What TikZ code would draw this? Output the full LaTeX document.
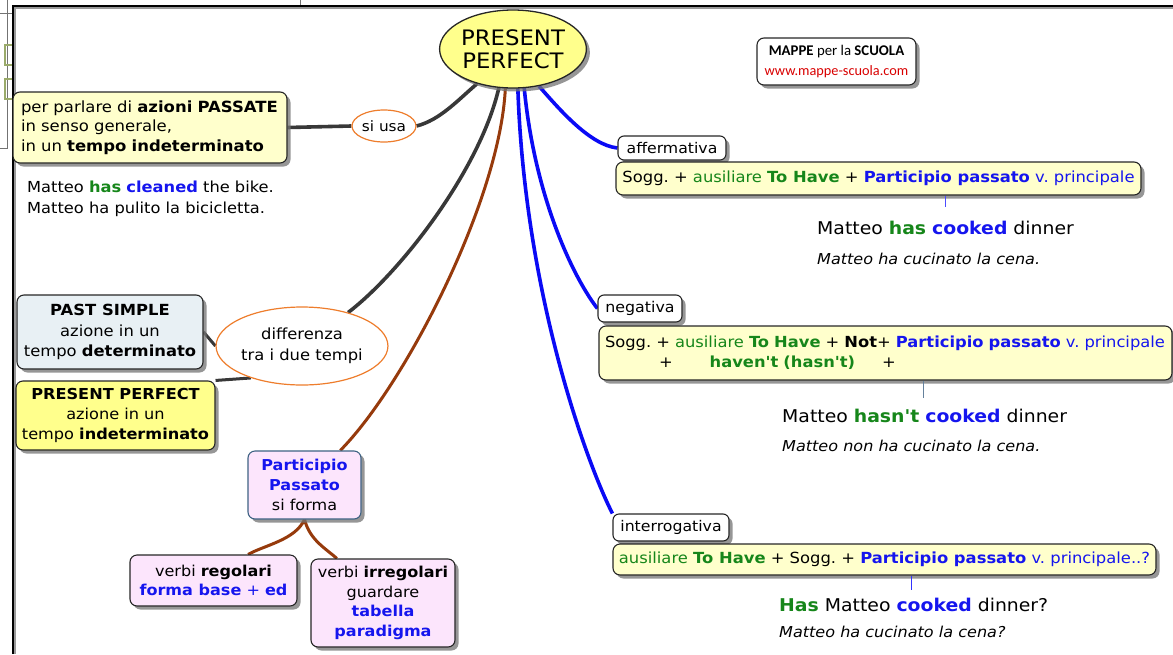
\documentclass[tikz,border=0pt]{standalone}
\usepackage{fontspec}
\setmainfont{DejaVu Sans}[FakeStretch=1.07]
\newfontfamily\plainf{DejaVu Sans}[FakeStretch=1.07]
\newfontfamily\carlito{Carlito}
\usetikzlibrary{shapes.geometric,shadows,backgrounds}
\definecolor{gr}{HTML}{16861A}
\definecolor{bl}{HTML}{1515EE}
\definecolor{blline}{HTML}{0A0AF5}
\definecolor{orng}{HTML}{EE7D2C}
\definecolor{brn}{HTML}{963A0C}
\definecolor{ylw}{HTML}{FFFFCC}
\definecolor{ylwd}{HTML}{FFFF8C}
\definecolor{pastb}{HTML}{E8F0F4}
\definecolor{pink}{HTML}{FCE5FC}
\definecolor{partb}{HTML}{3E6283}
\definecolor{olv}{HTML}{9AAA6A}
\newcommand{\fs}[2]{\fontsize{#1}{#2}\selectfont}
\frenchspacing
\begin{document}
\begin{tikzpicture}[x=1pt,y=-1pt,
  shad/.style={drop shadow={shadow xshift=3.5pt,shadow yshift=-3.5pt,fill=black!55,opacity=0.75}},
  box/.style={draw=black!85,line width=1.1pt,rounded corners=7pt,shad,inner sep=0pt},
  lab/.style={box,fill=white,rounded corners=6pt},
  oval/.style={ellipse,draw=orng,line width=1.2pt,fill=white,inner sep=0pt,align=center},
  gline/.style={line width=3.6pt,draw=black!78},
  bline/.style={line width=3.6pt,draw=blline},
  brline/.style={line width=3pt,draw=brn},
  tick/.style={line width=1pt},
  txt/.style={inner sep=0pt,anchor=west,align=left}]
\useasboundingbox (0,0) rectangle (1173,654);
% background frame
\draw[black!55,line width=0.8pt] (7,0) -- (7,148) -- (0,148);
\draw[black!55,line width=0.8pt] (0,13) -- (13,13);
\draw[black!55,line width=0.8pt] (300,0) -- (300,6);
\draw[olv,line width=1.6pt] (5,45) rectangle (13,65);
\draw[olv,line width=1.6pt] (5,79) rectangle (13,99);
\draw[black!40,line width=3pt] (14,654) -- (14,7) -- (1173,7);
\draw[black,line width=1.8pt] (13,654) -- (13,6) -- (1173,6);

% central node
\node[ellipse,draw=black!85,line width=1.3pt,fill=ylwd,minimum width=137pt,minimum height=78pt,inner sep=0pt,shad,align=center,font=\fs{21.3}{23}] (pp) at (513,49) {PRESENT\\PERFECT};

% logo
\node[box,fill=white,minimum width=159pt,minimum height=47pt,align=center,font=\carlito\fs{14.8}{20}] (logo) at (836.5,61.5) {\textbf{MAPPE} per la \textbf{SCUOLA}\\{\fs{14.3}{20}\textcolor{red!85!black}{www.mappe-scuola.com}}};

% left: usage
\node[box,fill=ylw,minimum width=274pt,minimum height=71pt,text width=258pt,align=left,font=\fs{15.4}{19.5}] (uso) at (150,127.5) {per parlare di \textbf{azioni PASSATE}\\in senso generale,\\in un \textbf{tempo indeterminato}};
\node[oval,minimum width=64pt,minimum height=32pt,font=\fs{14.3}{17}] (siusa) at (384,126) {si usa};
\node[txt,font=\fs{15.2}{21}] (ex0) at (27,198.5) {Matteo \textcolor{gr}{\textbf{has}} \textcolor{bl}{\textbf{cleaned}} the bike.\\Matteo ha pulito la bicicletta.};

% differences
\node[box,fill=pastb,minimum width=186pt,minimum height=74pt,align=center,font=\fs{15.3}{20.5}] (past) at (110,332) {\textbf{PAST SIMPLE}\\azione in un\\tempo \textbf{determinato}};
\node[box,fill=ylwd,minimum width=199pt,minimum height=69pt,align=center,font=\fs{15.1}{20}] (prp) at (115.5,415.5) {\textbf{PRESENT PERFECT}\\azione in un\\tempo \textbf{indeterminato}};
\node[oval,minimum width=152pt,minimum height=78pt,font=\fs{15.3}{21}] (diff) at (302,346) {differenza\\tra i due tempi};

% participio
\node[box,draw=partb,fill=pink,minimum width=113pt,minimum height=68pt,align=center,font=\fs{15}{20}] (part) at (304.5,485) {\textcolor{bl}{\textbf{Participio}}\\\textcolor{bl}{\textbf{Passato}}\\si forma};
\node[box,fill=pink,minimum width=167pt,minimum height=51pt,align=center,font=\fs{15}{19.5}] (reg) at (213.5,580.5) {verbi \textbf{regolari}\\\textcolor{bl}{\textbf{forma base} + \textbf{ed}}};
\node[box,fill=pink,minimum width=144pt,minimum height=88pt,align=center,font=\fs{15}{19.7}] (irr) at (383,603) {verbi \textbf{irregolari}\\guardare\\\textcolor{bl}{\textbf{tabella}}\\\textcolor{bl}{\textbf{paradigma}}};

% affermativa
\node[lab,minimum width=108pt,minimum height=24pt,font=\fs{14.7}{18}] (aff) at (672,148) {affermativa};
\node[box,fill=ylw,minimum width=525pt,minimum height=33pt,font=\fs{15.3}{18}] (f1) at (878.5,178.5) {Sogg. + \textcolor{gr}{ausiliare \textbf{To Have}} + \textcolor{bl}{\textbf{Participio passato} v. principale}};
\node[txt,font=\fs{17.6}{21}] (ex1) at (817,228) {Matteo \textcolor{gr}{\textbf{has}} \textcolor{bl}{\textbf{cooked}} dinner};
\node[txt,font=\itshape\fs{15}{17}] (it1) at (817,259) {Matteo ha cucinato la cena.};
\coordinate (t1) at (945,207);

% negativa
\node[lab,minimum width=84pt,minimum height=27pt,font=\fs{14.8}{18}] (neg) at (640,308.5) {negativa};
\node[box,fill=ylw,minimum width=573pt,minimum height=54pt,text width=561pt,align=left,font=\fs{15.25}{20}] (f2) at (885.5,353) {Sogg. + \textcolor{gr}{ausiliare \textbf{To Have}} + \textbf{Not}+ \textcolor{bl}{\textbf{Participio passato} v. principale}\\\hspace*{54pt}+\hspace*{37pt}\textcolor{gr}{\plainf\bfseries haven't (hasn't)}\hspace*{27pt}+};
\node[txt,font=\fs{17.6}{21}] (ex2) at (782,416) {Matteo \textcolor{gr}{\plainf\bfseries hasn't} \textcolor{bl}{\textbf{cooked}} dinner};
\node[txt,font=\itshape\fs{15}{17}] (it2) at (782,446) {Matteo non ha cucinato la cena.};
\coordinate (t2) at (923,398);

% interrogativa
\node[lab,minimum width=116pt,minimum height=27pt,font=\fs{14.7}{18}] (int) at (671,527.5) {interrogativa};
\node[box,fill=ylw,minimum width=543pt,minimum height=31pt,font=\fs{15.3}{18}] (f3) at (884.5,559.5) {\textcolor{gr}{ausiliare \textbf{To Have}} + Sogg. + \textcolor{bl}{\textbf{Participio passato} v. principale..?}};
\node[txt,font=\fs{17.6}{21}] (ex3) at (779,605) {\textcolor{gr}{\textbf{Has}} Matteo \textcolor{bl}{\textbf{cooked}} dinner?};
\node[txt,font=\itshape\fs{15}{17}] (it3) at (779,632) {Matteo ha cucinato la cena?};
\coordinate (t3) at (911,590);

\begin{scope}[on background layer]
\draw[gline] (uso.east) -- (siusa.west);
\draw[gline] (siusa.east) .. controls (440,120) and (458,100) .. (pp.224);
\draw[gline] (diff.36) .. controls (400,273) and (480,170) .. (pp.250);
\draw[gline,line width=3pt] (past.east) -- (diff.west);
\draw[gline,line width=3pt] (prp.north east) -- (diff.212);
\draw[brline] (pp.259) .. controls (500,200) and (405,385) .. (part.44);
\draw[brline] (part.south) .. controls (295,540) and (265,545) .. (reg.37);
\draw[brline] (part.south) .. controls (310,540) and (325,548) .. (irr.136);
\draw[bline] (pp.305) .. controls (560,110) and (590,145) .. (aff.west);
\draw[bline] (pp.286) .. controls (535,200) and (575,280) .. (neg.west);
\draw[bline] (pp.277) .. controls (525,300) and (590,470) .. (int.north west);
\end{scope}
\draw[tick,draw=blue!70] (f1.south -| t1) -- (t1);
\draw[tick,draw=partb!80] (f2.south -| t2) -- (t2);
\draw[tick,draw=blue!80] (f3.south -| t3) -- (t3);
\end{tikzpicture}
\end{document}
